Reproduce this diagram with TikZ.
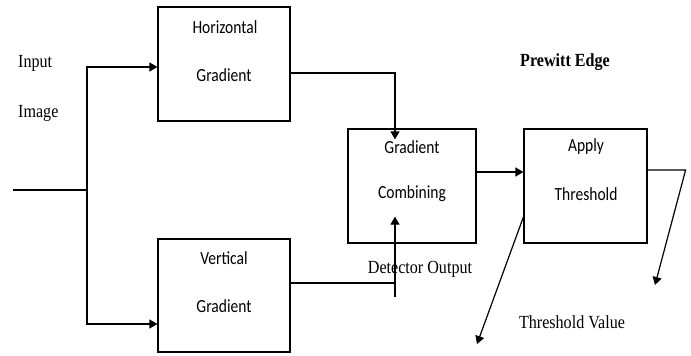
\documentclass[tikz,border=0pt]{standalone}
\usepackage{fontspec}
\setmainfont[FakeStretch=0.87]{Liberation Serif}
\newfontfamily\boxfont[FakeStretch=0.84]{Carlito}
\usetikzlibrary{arrows.meta,calc}
\begin{document}
\begin{tikzpicture}[x=1pt,y=-1pt,
  blk/.style={draw,line width=1.2pt,inner sep=0pt},
  btxt/.style={font=\boxfont\fontsize{18.5}{21}\selectfont,inner sep=0pt},
  ltxt/.style={font=\fontsize{18.5}{21}\selectfont,inner sep=0pt},
  con/.style={line width=1.2pt},
  arr/.style={con,-{Triangle[length=8pt,width=9pt]}}]
\useasboundingbox (0,0) rectangle (691,356);
% boxes
\node[blk,minimum width=132pt,minimum height=114pt] (hb) at (224,64) {};
\node[blk,minimum width=132pt,minimum height=113pt] (vb) at (224,295.5) {};
\node[blk,minimum width=128pt,minimum height=114pt] (cb) at (412,186) {};
\node[blk,minimum width=123pt,minimum height=114pt] (tb) at (585.5,186) {};
% box texts
\node[btxt] (hb1) at (225,27) {Horizontal};
\node[btxt] (hb2) at (224,75) {Gradient};
\node[btxt] (vb1) at (224,258) {Vertical};
\node[btxt] (vb2) at (224,306) {Gradient};
\node[btxt] (cb1) at (412,147) {Gradient};
\node[btxt] (cb2) at (412,194) {Combining};
\node[btxt] (tb1) at (586,147) {Apply};
\node[btxt] (tb2) at (586,194) {Threshold};
% labels
\node[ltxt,anchor=west] (lin) at (18,63) {Input};
\node[ltxt,anchor=west] (lim) at (18,113) {Image};
\node[ltxt,font=\bfseries\fontsize{18.5}{21}\selectfont] (lpe) at (565,62) {Prewitt Edge};
\node[ltxt] (ldo) at (420,269) {Detector Output};
\node[ltxt] (ltv) at (572,322) {Threshold Value};
% connectors
\coordinate (in) at (13,190);
\coordinate (split) at (87,190);
\draw[con] (in) -- (split);
\draw[arr] (split) |- ($(hb.west)+(0,3)$);
\draw[arr] (split) |- ($(vb.west)+(0,28.5)$);
\draw[arr] ($(hb.east)+(0,9)$) -| ($(cb.north)+(-17,11)$);
\draw[con] ($(vb.east)+(0,-12.5)$) -- ++(105,0);
\draw[arr] ($(cb.south)+(-17,53)$) -- ($(cb.south)+(-17,-27)$);
\draw[arr] ($(cb.east)+(0,-14)$) -- ($(tb.west)+(0,-14)$);
\coordinate (tv1) at (655,285);
\coordinate (tv2) at (477,344);
\draw[arr] ($(tb.east)+(0,-16)$) -- ++(38,0) -- (tv1);
\draw[arr] ($(tb.west)+(0,31)$) -- (tv2);
\end{tikzpicture}
\end{document}
